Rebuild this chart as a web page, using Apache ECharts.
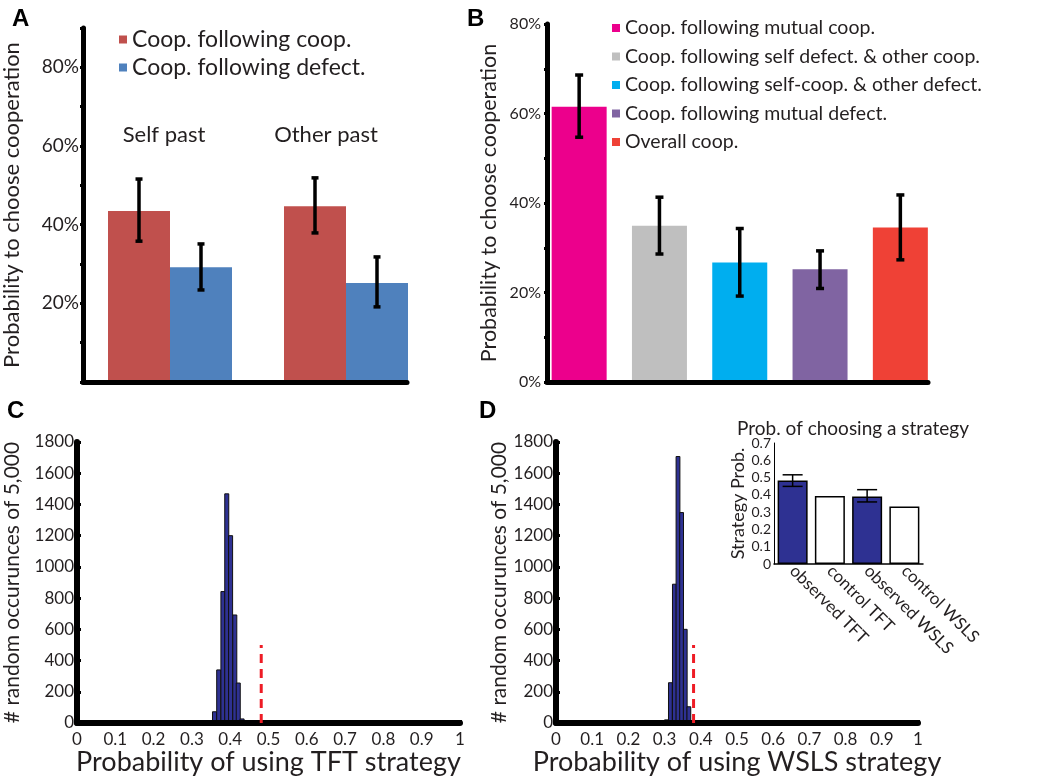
<!DOCTYPE html>
<html><head><meta charset="utf-8">
<script src="https://cdn.jsdelivr.net/npm/echarts@6/dist/echarts.min.js"></script>
<style>html,body{margin:0;padding:0;background:#fff}#c{width:1050px;height:779px}</style>
</head><body><div id="c"></div><script>
// ---------- Panel A ----------
const groupsA = ['Self past', 'Other past'];
const namesA = ['Coop. following coop.', 'Coop. following defect.'];
const coopAfterCoop = [43.5, 44.7];
const coopAfterCoopLow = [35.8, 37.9];
const coopAfterCoopHigh = [51.6, 51.9];
const coopAfterDefect = [29.2, 25.2];
const coopAfterDefectLow = [23.4, 19.1];
const coopAfterDefectHigh = [35.1, 31.8];
// ---------- Panel B ----------
const catsB = ['Coop. following mutual coop.', 'Coop. following self defect. & other coop.',
  'Coop. following self-coop. & other defect.', 'Coop. following mutual defect.', 'Overall coop.'];
const valuesB = [61.5, 34.9, 26.7, 25.2, 34.5];
const lowB = [54.7, 28.6, 19.2, 20.9, 27.3];
const highB = [68.6, 41.3, 34.3, 29.3, 41.8];
// ---------- Panel C ----------
const binsTFT = [0.359, 0.370, 0.381, 0.391, 0.401, 0.412, 0.421, 0.431];
const countsTFT = [72, 340, 842, 1468, 1200, 692, 256, 26];
const observedTFT = 0.481;
// ---------- Panel D ----------
const binsWSLS = [0.305, 0.316, 0.327, 0.337, 0.347, 0.357, 0.367];
const countsWSLS = [20, 258, 889, 1707, 1348, 600, 104];
const observedWSLS = 0.38;
const BIN = 0.0105;
const observedLineHeight = 500;
// ---------- Inset ----------
const insetCats = ['observed TFT', 'control TFT', 'observed WSLS', 'control WSLS'];
const insetVals = [0.483, 0.394, 0.39, 0.332];
const insetLow = [0.449, null, 0.359, null];
const insetHigh = [0.516, null, 0.43, null];

const FONT = 'Lato, "Open Sans", sans-serif';
const TXT = '#231f20';
const colorsA = ['#c0504d', '#4f81bd'];
const colorsB = ['#ec008c', '#bfbfbf', '#00aeef', '#8064a2', '#ef4136'];
const NAVY = '#2e3192';
const BAR_W_A = 62, BAR_W_B = 55, BAR_W_IN = 30;

const chart = echarts.init(document.getElementById('c'));

function errRender(offsetPx, cap, lw) {
  return function (params, api) {
    const i = api.value(0), lo = api.value(1), hi = api.value(2);
    if (isNaN(lo) || isNaN(hi)) return { type: 'group', children: [] };
    const pL = api.coord([i, lo]), pH = api.coord([i, hi]);
    const cx = pL[0] + offsetPx;
    const st = { stroke: '#000', lineWidth: lw };
    return { type: 'group', children: [
      { type: 'line', shape: { x1: cx, y1: pL[1], x2: cx, y2: pH[1] }, style: st },
      { type: 'line', shape: { x1: cx - cap / 2, y1: pH[1], x2: cx + cap / 2, y2: pH[1] }, style: st },
      { type: 'line', shape: { x1: cx - cap / 2, y1: pL[1], x2: cx + cap / 2, y2: pL[1] }, style: st }
    ] };
  };
}
function histRender(params, api) {
  const x = api.value(0), y = api.value(1);
  const p0 = api.coord([x - BIN / 2, 0]), p1 = api.coord([x + BIN / 2, y]);
  return { type: 'rect', shape: { x: p0[0], y: p1[1], width: p1[0] - p0[0], height: p0[1] - p1[1] },
    style: { fill: NAVY, stroke: '#111', lineWidth: 1 } };
}
const zip3 = (lo, hi) => lo.map((v, i) => [i, v, hi[i]]);
const pairs = (xs, ys) => xs.map((x, i) => [x, ys[i]]);
const pctA = v => (v > 0 && v < 90 && v % 20 === 0) ? v + '%' : '';
const pctB = v => (v % 20 === 0) ? v + '%' : '';
const dec = v => (v === 0 ? '0' : v === 1 ? '1' : v.toFixed(1));
const plain = v => String(v);

const thick = w => ({ show: true, lineStyle: { color: '#000', width: w } });
const hiddenAx = { show: false };
const letter = { fontFamily: 'Liberation Sans', fontWeight: 'bold', fontSize: 24, color: '#000' };

const option = {
  animation: false,
  backgroundColor: '#fff',
  textStyle: { fontFamily: FONT, color: TXT },
  title: [
    { text: 'A', left: 7, top: 2, textStyle: letter },
    { text: 'B', left: 462, top: 2, textStyle: letter },
    { text: 'C', left: 2, top: 394, textStyle: letter },
    { text: 'D', left: 474, top: 394, textStyle: letter },
    { text: 'Prob. of choosing a strategy', left: 848, top: 414, textAlign: 'center',
      textStyle: { fontFamily: FONT, fontWeight: 'normal', fontSize: 19, color: TXT } }
  ],
  legend: [
    { data: namesA, orient: 'vertical', left: 114, top: 23, icon: 'rect', itemWidth: 8, itemHeight: 8, itemGap: 5,
      textStyle: { fontFamily: FONT, fontSize: 23, color: TXT }, selectedMode: false },
    { data: catsB, orient: 'vertical', left: 607, top: 13, icon: 'rect', itemWidth: 8, itemHeight: 8, itemGap: 8.5,
      textStyle: { fontFamily: FONT, fontSize: 19.5, color: TXT }, selectedMode: false }
  ],
  grid: [
    { left: 82, top: 28, width: 352, height: 354 },   // 0 A bars
    { left: 82, top: 28, width: 325, height: 354 },   // 1 A axes
    { left: 539, top: 24, width: 401.5, height: 358 },// 2 B bars
    { left: 547, top: 24, width: 381, height: 358 },  // 3 B axes
    { left: 77, top: 442, width: 383, height: 281 },  // 4 C
    { left: 556, top: 442, width: 362, height: 281 }, // 5 D
    { left: 774, top: 443, width: 149, height: 121 }  // 6 inset
  ],
  xAxis: [
    { gridIndex: 0, type: 'category', data: groupsA, show: false },                       // 0
    { gridIndex: 1, type: 'category', data: groupsA, position: 'top', offset: -120,       // 1
      axisLine: hiddenAx, axisTick: hiddenAx, axisLabel: { margin: 2, fontSize: 22, color: TXT, fontFamily: FONT } },
    { gridIndex: 1, type: 'category', data: groupsA, position: 'bottom', axisLine: thick(5), axisTick: hiddenAx, axisLabel: hiddenAx, z: 5 }, // 2
    { gridIndex: 2, type: 'category', data: catsB, show: false },                         // 3
    { gridIndex: 3, type: 'category', data: catsB, axisLine: thick(5), axisTick: hiddenAx, axisLabel: hiddenAx, z: 5 }, // 4
    { gridIndex: 4, type: 'value', min: 0, max: 1, interval: 0.1, splitLine: hiddenAx, axisLine: thick(6), z: 5, // 5
      axisTick: { show: true, inside: true, length: 3, lineStyle: { width: 3, color: '#000' } },
      axisLabel: { formatter: dec, fontSize: 17, color: TXT, margin: 8, fontFamily: FONT },
      name: 'Probability of using TFT strategy', nameLocation: 'middle', nameGap: 25,
      nameTextStyle: { fontSize: 27, color: TXT, fontFamily: FONT } },
    { gridIndex: 5, type: 'value', min: 0, max: 1, interval: 0.1, splitLine: hiddenAx, axisLine: thick(6), z: 5, // 6
      axisTick: { show: true, inside: true, length: 3, lineStyle: { width: 3, color: '#000' } },
      axisLabel: { formatter: dec, fontSize: 17, color: TXT, margin: 8, fontFamily: FONT },
      name: 'Probability of using WSLS strategy', nameLocation: 'middle', nameGap: 25,
      nameTextStyle: { fontSize: 27, color: TXT, fontFamily: FONT } },
    { gridIndex: 6, type: 'category', data: insetCats, axisLine: thick(1.5), axisTick: hiddenAx, // 7
      axisLabel: { rotate: -45, fontSize: 17, color: TXT, margin: 4, fontFamily: FONT, interval: 0 } }
  ],
  yAxis: [
    { gridIndex: 0, type: 'value', min: 0, max: 90, interval: 10, show: false },
    { gridIndex: 1, type: 'value', min: 0, max: 90, interval: 10, splitLine: hiddenAx, axisLine: thick(5),
      axisTick: { show: true, length: 3, lineStyle: { width: 3, color: '#000' } },
      axisLabel: { formatter: pctA, fontSize: 19, color: TXT, margin: 4, fontFamily: FONT },
      name: 'Probability to choose cooperation', nameLocation: 'middle', nameGap: 60, nameRotate: 90,
      nameTextStyle: { fontSize: 22, color: TXT, fontFamily: FONT } },
    { gridIndex: 2, type: 'value', min: 0, max: 80, interval: 10, show: false },
    { gridIndex: 3, type: 'value', min: 0, max: 80, interval: 10, splitLine: hiddenAx, axisLine: thick(5),
      axisTick: { show: true, length: 3, lineStyle: { width: 3, color: '#000' } },
      axisLabel: { formatter: pctB, fontSize: 16, color: TXT, margin: 6, fontFamily: FONT },
      name: 'Probability to choose cooperation', nameLocation: 'middle', nameGap: 47, nameRotate: 90,
      nameTextStyle: { fontSize: 21.5, color: TXT, fontFamily: FONT } },
    { gridIndex: 4, type: 'value', min: 0, max: 1800, interval: 200, splitLine: hiddenAx, axisLine: thick(6), z: 5,
      axisTick: { show: true, inside: true, length: 4, lineStyle: { width: 3, color: '#000' } },
      axisLabel: { formatter: plain, fontSize: 17, color: TXT, margin: 3, fontFamily: FONT },
      name: '# random occurunces of 5,000', nameLocation: 'middle', nameGap: 54, nameRotate: 90,
      nameTextStyle: { fontSize: 21, color: TXT, fontFamily: FONT } },
    { gridIndex: 5, type: 'value', min: 0, max: 1800, interval: 200, splitLine: hiddenAx, axisLine: thick(6), z: 5,
      axisTick: { show: true, inside: true, length: 4, lineStyle: { width: 3, color: '#000' } },
      axisLabel: { formatter: plain, fontSize: 17, color: TXT, margin: 3, fontFamily: FONT },
      name: '# random occurunces of 5,000', nameLocation: 'middle', nameGap: 46, nameRotate: 90,
      nameTextStyle: { fontSize: 21, color: TXT, fontFamily: FONT } },
    { gridIndex: 6, type: 'value', min: 0, max: 0.7, interval: 0.1, splitLine: hiddenAx, axisLine: thick(1),
      axisTick: hiddenAx,
      axisLabel: { formatter: dec, fontSize: 14, color: TXT, margin: 3, fontFamily: FONT },
      name: 'Strategy Prob.', nameLocation: 'middle', nameGap: 22, nameRotate: 90,
      nameTextStyle: { fontSize: 18, color: TXT, fontFamily: FONT } }
  ],
  series: [
    // A
    { name: namesA[0], type: 'bar', xAxisIndex: 0, yAxisIndex: 0, data: coopAfterCoop, barWidth: BAR_W_A, barGap: '0%',
      itemStyle: { color: colorsA[0] } },
    { name: namesA[1], type: 'bar', xAxisIndex: 0, yAxisIndex: 0, data: coopAfterDefect, barWidth: BAR_W_A, barGap: '0%',
      itemStyle: { color: colorsA[1] } },
    { type: 'custom', xAxisIndex: 0, yAxisIndex: 0, renderItem: errRender(-BAR_W_A / 2, 7, 3.5),
      data: zip3(coopAfterCoopLow, coopAfterCoopHigh), z: 10 },
    { type: 'custom', xAxisIndex: 0, yAxisIndex: 0, renderItem: errRender(BAR_W_A / 2, 7, 3.5),
      data: zip3(coopAfterDefectLow, coopAfterDefectHigh), z: 10 },
    // B
    ...catsB.map((n, k) => ({ name: n, type: 'bar', xAxisIndex: 3, yAxisIndex: 2, stack: 'b', barWidth: BAR_W_B,
      data: valuesB.map((v, i) => (i === k ? v : '-')), itemStyle: { color: colorsB[k] } })),
    { type: 'custom', xAxisIndex: 3, yAxisIndex: 2, renderItem: errRender(0, 8, 3.5), data: zip3(lowB, highB), z: 10 },
    // C
    { type: 'custom', xAxisIndex: 5, yAxisIndex: 4, renderItem: histRender, data: pairs(binsTFT, countsTFT) },
    { type: 'line', xAxisIndex: 5, yAxisIndex: 4, symbol: 'none', data: [[observedTFT, 0], [observedTFT, observedLineHeight]],
      lineStyle: { color: '#ee1c25', width: 3, type: [9, 6] }, z: 6 },
    // D
    { type: 'custom', xAxisIndex: 6, yAxisIndex: 5, renderItem: histRender, data: pairs(binsWSLS, countsWSLS) },
    { type: 'line', xAxisIndex: 6, yAxisIndex: 5, symbol: 'none', data: [[observedWSLS, 0], [observedWSLS, observedLineHeight]],
      lineStyle: { color: '#ee1c25', width: 3, type: [9, 6] }, z: 6 },
    // inset
    { type: 'bar', xAxisIndex: 7, yAxisIndex: 6, barWidth: BAR_W_IN,
      data: insetVals.map((v, i) => ({ value: v, itemStyle: insetLow[i] === null
        ? { color: '#fff', borderColor: '#000', borderWidth: 1.5 }
        : { color: NAVY, borderColor: '#000', borderWidth: 1.5 } })) },
    { type: 'custom', xAxisIndex: 7, yAxisIndex: 6, renderItem: errRender(0, 20, 1.5),
      data: zip3(insetLow.map(v => v === null ? NaN : v), insetHigh.map(v => v === null ? NaN : v)), z: 10 }
  ]
};
chart.setOption(option);
</script></body></html>
